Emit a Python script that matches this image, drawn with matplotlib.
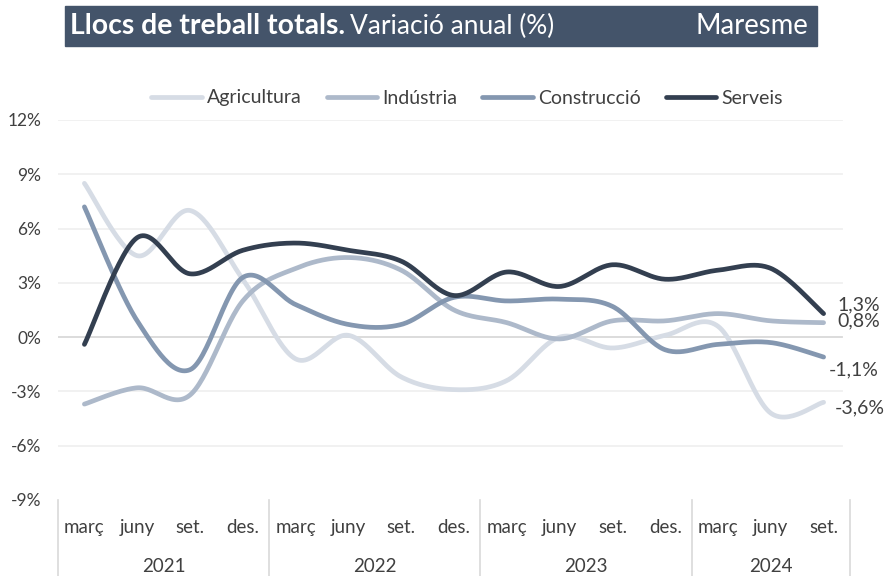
import numpy as np
import matplotlib.pyplot as plt
from matplotlib.patches import Rectangle
import matplotlib.transforms as mtransforms

plt.rcParams['font.family'] = ['Lato', 'DejaVu Sans']

months = ['març', 'juny', 'set.', 'des.'] * 3 + ['març', 'juny', 'set.']
years = ['2021', '2022', '2023', '2024']
year_sizes = [4, 4, 4, 3]

series_names = ['Agricultura', 'Indústria', 'Construcció', 'Serveis']
agricultura = [8.5, 4.5, 7.0, 3.2, -1.2, 0.1, -2.2, -2.9, -2.4, 0.0, -0.6, 0.1, 0.6, -4.2, -3.6]
industria = [-3.7, -2.8, -3.2, 2.0, 3.8, 4.4, 3.7, 1.5, 0.8, -0.1, 0.9, 0.9, 1.3, 0.9, 0.8]
construccio = [7.2, 0.9, -1.8, 3.3, 1.8, 0.7, 0.7, 2.2, 2.0, 2.1, 1.7, -0.7, -0.4, -0.3, -1.1]
serveis = [-0.4, 5.5, 3.5, 4.8, 5.2, 4.8, 4.2, 2.3, 3.6, 2.8, 4.0, 3.2, 3.7, 3.8, 1.3]
colors = ['#D6DCE5', '#ADB9CA', '#8497B0', '#333F50']
yticks = [-9, -6, -3, 0, 3, 6, 9, 12]
text_color = '#404040'


def smooth(y, n=30):
    # Excel-style smoothed line (Catmull-Rom through the points)
    x = np.arange(len(y), dtype=float)
    y = np.asarray(y, dtype=float)
    px = np.concatenate([[x[0]], x, [x[-1]]])
    py = np.concatenate([[y[0]], y, [y[-1]]])
    xs, ys = [], []
    t = np.linspace(0, 1, n)
    for i in range(len(y) - 1):
        p0 = np.array([px[i + 1], py[i + 1]])
        p3 = np.array([px[i + 2], py[i + 2]])
        c1 = p0 + (p3 - np.array([px[i], py[i]])) / 6
        c2 = p3 - (np.array([px[i + 3], py[i + 3]]) - p0) / 6
        b = ((1 - t) ** 3)[:, None] * p0 + (3 * (1 - t) ** 2 * t)[:, None] * c1 \
            + (3 * (1 - t) * t ** 2)[:, None] * c2 + (t ** 3)[:, None] * p3
        xs.append(b[:, 0])
        ys.append(b[:, 1])
    return np.concatenate(xs), np.concatenate(ys)


def fit_width(txt, width_px, size):
    # shrink/grow a text so it spans width_px
    fig.canvas.draw()
    w = txt.get_window_extent().width
    txt.set_fontsize(size * width_px / w)


fig = plt.figure(figsize=(8.87, 5.76), dpi=100)
ax = fig.add_axes([58 / 887, 1 - 500 / 576, 792 / 887, 380 / 576])

for yv in yticks[1:]:
    ax.axhline(yv, xmax=0.99, color='#D9D9D9' if yv == 0 else '#F0F0F0', lw=1.3, zorder=0)

data = [agricultura, industria, construccio, serveis]
lines = []
for name, vals, c in zip(series_names, data, colors):
    sx, sy = smooth(vals)
    ln, = ax.plot(sx, sy, color=c, lw=3.4, solid_capstyle='round', label=name)
    lines.append(ln)

ax.set_xlim(-0.5, 14.5)
ax.set_ylim(-9, 12)
ax.set_yticks(yticks)
ax.set_yticklabels([f'{v}%' for v in yticks], color=text_color, fontsize=12.5)
ax.tick_params(axis='y', length=0, pad=12)
ax.set_xticks([])
for s in ax.spines.values():
    s.set_visible(False)

trans = mtransforms.blended_transform_factory(ax.transData, ax.transAxes)
for i, m in enumerate(months):
    ax.text(i, -0.072, m, transform=trans, ha='center', va='center',
            fontsize=13.5, color=text_color)
start = -0.5
bounds = [start]
for yr, n in zip(years, year_sizes):
    ax.text(start + n / 2, -0.174, yr, transform=trans, ha='center', va='center',
            fontsize=13.5, color=text_color)
    start += n
    bounds.append(start)
for b in bounds:
    ax.plot([b, b], [0, -0.2], transform=trans, color='#D9D9D9', lw=1.2, clip_on=False)

# end labels
offsets = [(11, -6), (14, 2), (5, -13), (14, 9)]
for vals, (dx, dy) in zip(data, offsets):
    ax.annotate(f'{vals[-1]:.1f}%'.replace('.', ','), (14, vals[-1]),
                xytext=(dx, dy), textcoords='offset pixels', ha='left', va='center',
                fontsize=14, color=text_color, annotation_clip=False)

fig.legend(handles=lines, loc='center', bbox_to_anchor=(467 / 887, 1 - 98 / 576),
           ncol=4, frameon=False, fontsize=14, labelcolor=text_color,
           handlelength=2.6, handletextpad=0.25, columnspacing=1.3)

# title bar
fig.patches.append(Rectangle((65 / 887, 1 - 46 / 576), 752 / 887, 40 / 576,
                             transform=fig.transFigure, color='#44546A', zorder=0))
t1 = fig.text(70 / 887, 1 - 26 / 576, 'Llocs de treball totals.', color='white',
              fontsize=18, fontweight='bold', va='center', ha='left')
fit_width(t1, 275, 18)
t2 = fig.text(350 / 887, 1 - 26 / 576, 'Variació anual (%)', color='white',
              fontsize=18, va='center', ha='left')
fit_width(t2, 203, 18)
t3 = fig.text(808 / 887, 1 - 26 / 576, 'Maresme', color='white', fontsize=18,
              va='center', ha='right')
fit_width(t3, 113, 18)

fig.savefig('out.png', dpi=100)
